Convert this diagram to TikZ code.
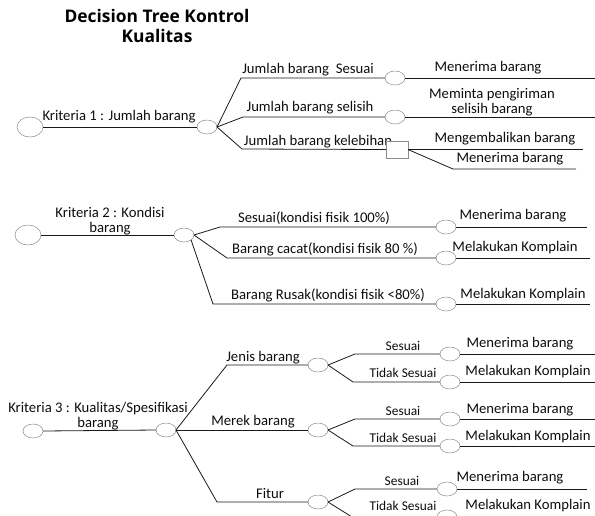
\documentclass[tikz,border=0pt]{standalone}
\usepackage{fontspec}
\setmainfont{Carlito}
\newfontfamily\titlefont{Open Sans}
\usetikzlibrary{shapes.geometric}

\begin{document}
\begin{tikzpicture}[x=1pt,y=-1pt,
  every node/.style={inner sep=0pt, outer sep=0pt},
  branch/.style={draw=black!90, line width=0.8pt},
  chance/.style={ellipse, draw=black!45, line width=0.5pt, fill=white,
                 minimum width=20pt, minimum height=14pt},
  root/.style={chance, minimum width=26pt, minimum height=20pt},
  choice/.style={rectangle, draw=black!45, line width=0.5pt, fill=white,
                 minimum width=22pt, minimum height=17pt},
  lbl/.style={font=\fontsize{14.7}{15.5}\selectfont, align=center, text=black!95},
  small/.style={font=\fontsize{13.4}{14}\selectfont, text=black!95},
  heading/.style={font=\titlefont\bfseries\fontsize{17.4}{19.5}\selectfont, align=center, text=black}]

\useasboundingbox (0,0) rectangle (595,515);
\clip (0,0) rectangle (595,515);

% title
\node[heading] (title) at (157,26) {Decision Tree Kontrol\\Kualitas};

% ---------- Kriteria 1 ----------
\node[root]   (r1) at (30,127) {};
\node[chance] (n1) at (207,127) {};
\draw[branch] (r1.east) -- (n1.west);
\node[lbl] (l1) at (119,117) {Kriteria 1 : Jumlah barang};

\coordinate (k1a) at (241,78);
\coordinate (k1b) at (243,117);
\coordinate (k1c) at (242,149);
\node[chance] (a1) at (395,78) {};
\node[chance] (a2) at (395,117) {};
\node[lbl] (l1c) at (318,142) {Jumlah barang kelebihan};
\node[choice] (sq) at (397,149.5) {};
\coordinate (e1a) at (595,78);
\coordinate (e1b) at (595,117);
\coordinate (e1c) at (583,149.5);
\coordinate (k1d) at (453,169);
\coordinate (e1d) at (576,169);

\draw[branch] (n1.east) -- (k1a) -- (a1.west);
\draw[branch] (n1.east) -- (k1b) -- (a2.west);
\draw[branch] (n1.east) -- (k1c) -- (sq.west);
\draw[branch] (a1.east) -- (e1a);
\draw[branch] (a2.east) -- (e1b);
\draw[branch] (sq.east) -- (e1c);
\draw[branch] (sq.east) -- (k1d) -- (e1d);

\node[lbl] (l1a) at (308,70) {Jumlah barang\ \ Sesuai};
\node[lbl] (l1b) at (310,108) {Jumlah barang selisih};
\node[lbl] (o1a) at (488,68) {Menerima barang};
\node[lbl] (o1b) at (492,102) {Meminta pengiriman\\selisih barang};
\node[lbl] (o1c) at (505,139) {Mengembalikan barang};
\node[lbl] (o1d) at (510,159) {Menerima barang};

% ---------- Kriteria 2 ----------
\node[root]   (r2) at (28,235) {};
\node[chance] (n2) at (184,235) {};
\draw[branch] (r2.east) -- (n2.west);
\node[lbl] (l2) at (110,221) {Kriteria 2 : Kondisi\\barang};

\coordinate (k2a) at (220,227);
\coordinate (k2b) at (227,258);
\coordinate (k2c) at (213,304);
\node[chance] (b1) at (446,227) {};
\node[chance] (b2) at (446,258) {};
\node[chance] (b3) at (446,304) {};
\coordinate (e2a) at (587,227);
\coordinate (e2b) at (590,258);
\coordinate (e2c) at (590,304);

\draw[branch] (n2.east) -- (k2a) -- (b1.west);
\draw[branch] (n2.east) -- (k2b) -- (b2.west);
\draw[branch] (n2.south east) -- (k2c) -- (b3.west);
\draw[branch] (b1.east) -- (e2a);
\draw[branch] (b2.east) -- (e2b);
\draw[branch] (b3.east) -- (e2c);

\node[lbl] (l2a) at (314,218) {Sesuai(kondisi fisik 100\%)};
\node[lbl] (l2b) at (325,249) {Barang cacat(kondisi fisik 80 \%)};
\node[lbl] (l2c) at (328,295) {Barang Rusak(kondisi fisik <80\%)};
\node[lbl] (o2a) at (513,216) {Menerima barang};
\node[lbl] (o2b) at (515,248) {Melakukan Komplain};
\node[lbl] (o2c) at (523,295) {Melakukan Komplain};

% ---------- Kriteria 3 ----------
\node[chance] (r3) at (33,431) {};
\node[chance] (n3) at (166,430) {};
\draw[branch] (r3.east) -- (n3.west);
\node[lbl] (l3) at (98,416) {Kriteria 3 : Kualitas/Spesifikasi\\barang};

\coordinate (k3a) at (227,365);
\coordinate (k3c) at (217,502);
\node[chance] (j) at (318,365) {};
\node[chance] (m) at (318,430) {};
\node[chance] (f) at (318,502) {};
\draw[branch] (n3.east) -- (k3a) -- (j.west);
\draw[branch] (n3.east) -- (m.west);
\draw[branch] (n3.east) -- (k3c) -- (f.west);
\node[lbl] (l3a) at (263,358) {Jenis barang};
\node[lbl] (l3b) at (253,422) {Merek barang};
\node[lbl] (l3c) at (270,493) {Fitur};

% sub-branches: Jenis barang
\coordinate (pj1) at (355,354);
\coordinate (pj2) at (353,382);
\node[chance] (s1) at (450,354) {};
\node[chance] (t1) at (450,382) {};
\coordinate (ej1) at (595,354);
\coordinate (ej2) at (595,382);
\draw[branch] (j.east) -- (pj1) -- (s1.west);
\draw[branch] (j.east) -- (pj2) -- (t1.west);
\draw[branch] (s1.east) -- (ej1);
\draw[branch] (t1.east) -- (ej2);
\node[small] (q1a) at (403,346) {Sesuai};
\node[small] (q1b) at (403,373) {Tidak Sesuai};
\node[lbl] (o3a) at (520,344) {Menerima barang};
\node[lbl] (o3b) at (528,372) {Melakukan Komplain};

% sub-branches: Merek barang
\coordinate (pm1) at (355,419);
\coordinate (pm2) at (353,446);
\node[chance] (s2) at (450,419) {};
\node[chance] (t2) at (450,446) {};
\coordinate (em1) at (595,419);
\coordinate (em2) at (595,446);
\draw[branch] (m.east) -- (pm1) -- (s2.west);
\draw[branch] (m.east) -- (pm2) -- (t2.west);
\draw[branch] (s2.east) -- (em1);
\draw[branch] (t2.east) -- (em2);
\node[small] (q2a) at (403,411) {Sesuai};
\node[small] (q2b) at (403,438) {Tidak Sesuai};
\node[lbl] (o3c) at (520,410) {Menerima barang};
\node[lbl] (o3d) at (528,437) {Melakukan Komplain};

% sub-branches: Fitur
\coordinate (pf1) at (355,489);
\coordinate (pf2) at (352,517);
\node[chance] (s3) at (447,489) {};
\node[chance] (t3) at (447,517) {};
\coordinate (ef1) at (587,489);
\coordinate (ef2) at (595,517);
\draw[branch] (f.east) -- (pf1) -- (s3.west);
\draw[branch] (f.east) -- (pf2) -- (t3.west);
\draw[branch] (s3.east) -- (ef1);
\draw[branch] (t3.east) -- (ef2);
\node[small] (q3a) at (402,481) {Sesuai};
\node[small] (q3b) at (403,506) {Tidak Sesuai};
\node[lbl] (o3e) at (510,478) {Menerima barang};
\node[lbl] (o3f) at (528,506) {Melakukan Komplain};

\end{tikzpicture}
\end{document}
